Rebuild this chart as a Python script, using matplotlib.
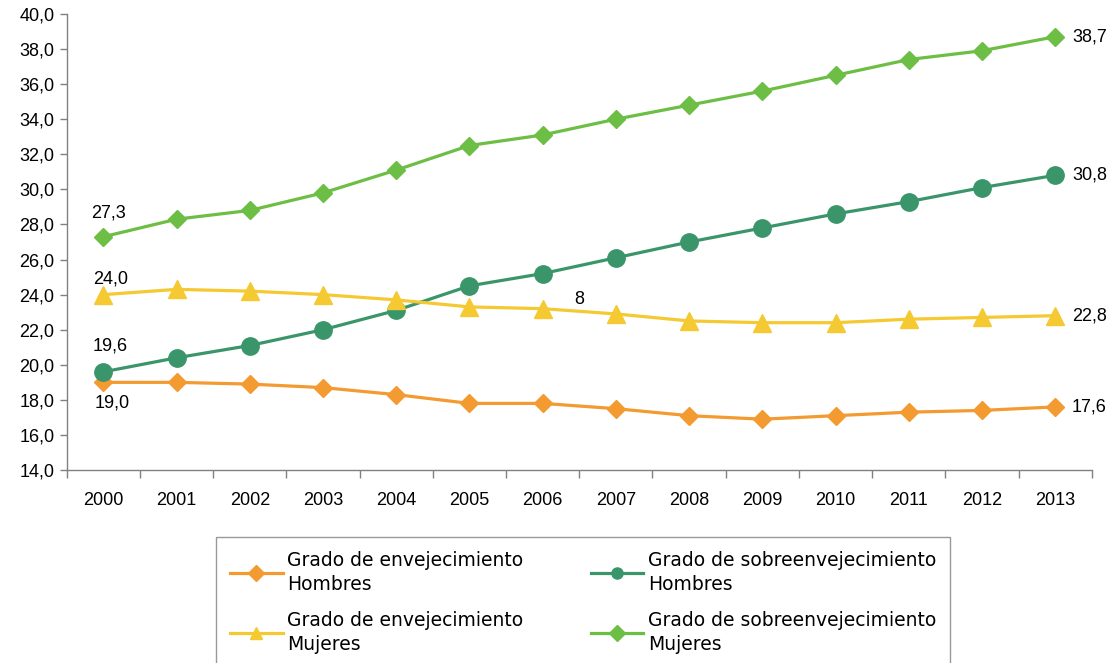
import numpy as np
import matplotlib.pyplot as plt
from matplotlib.ticker import FuncFormatter, FixedLocator

plt.rcParams['font.family'] = ['Liberation Sans', 'DejaVu Sans']

years = ["2000", "2001", "2002", "2003", "2004", "2005", "2006",
         "2007", "2008", "2009", "2010", "2011", "2012", "2013"]

env_hombres = [19.0, 19.0, 18.9, 18.7, 18.3, 17.8, 17.8, 17.5, 17.1, 16.9, 17.1, 17.3, 17.4, 17.6]
sobre_hombres = [19.6, 20.4, 21.1, 22.0, 23.1, 24.5, 25.2, 26.1, 27.0, 27.8, 28.6, 29.3, 30.1, 30.8]
env_mujeres = [24.0, 24.3, 24.2, 24.0, 23.7, 23.3, 23.2, 22.9, 22.5, 22.4, 22.4, 22.6, 22.7, 22.8]
sobre_mujeres = [27.3, 28.3, 28.8, 29.8, 31.1, 32.5, 33.1, 34.0, 34.8, 35.6, 36.5, 37.4, 37.9, 38.7]

labels = ["Grado de envejecimiento\nHombres",
          "Grado de sobreenvejecimiento\nHombres",
          "Grado de envejecimiento\nMujeres",
          "Grado de sobreenvejecimiento\nMujeres"]

c_orange = "#F39A30"
c_dgreen = "#3A966A"
c_yellow = "#F5C932"
c_lgreen = "#6DBE45"

fig = plt.figure(figsize=(11.14, 6.63), dpi=100)
ax = fig.add_axes([0.060, 0.291, 0.920, 0.688])

x = np.arange(len(years))
lw = 2.3
l1, = ax.plot(x, env_hombres, color=c_orange, lw=lw, marker="D", ms=9.5)
l2, = ax.plot(x, sobre_hombres, color=c_dgreen, lw=lw, marker="o", ms=12.5)
l3, = ax.plot(x, env_mujeres, color=c_yellow, lw=lw, marker="^", ms=13)
l4, = ax.plot(x, sobre_mujeres, color=c_lgreen, lw=lw, marker="D", ms=9.5)

ax.set_xlim(-0.5, len(years) - 0.5)
ax.set_ylim(14, 40)
ax.set_yticks(np.arange(14, 40.1, 2))
ax.yaxis.set_major_formatter(FuncFormatter(lambda v, p: f"{v:.1f}".replace(".", ",")))

ax.set_xticks(x)
ax.set_xticklabels(years)
ax.xaxis.set_minor_locator(FixedLocator(np.arange(-0.5, len(years), 1)))
ax.tick_params(axis="x", which="major", length=0, pad=16, labelsize=13)
ax.tick_params(axis="x", which="minor", length=6, width=1, color="#808080", direction="out")
ax.tick_params(axis="y", length=5, width=1, color="#808080", labelsize=13, pad=4)

for s in ["top", "right"]:
    ax.spines[s].set_visible(False)
for s in ["left", "bottom"]:
    ax.spines[s].set_color("#808080")
    ax.spines[s].set_linewidth(1)

fmt = lambda v: f"{v:.1f}".replace(".", ",")
fs = 13
ax.annotate(fmt(sobre_mujeres[0]), (0, sobre_mujeres[0]), xytext=(5, 24),
            textcoords="offset pixels", ha="center", va="center", fontsize=fs)
ax.annotate(fmt(env_mujeres[0]), (0, env_mujeres[0]), xytext=(7, 16),
            textcoords="offset pixels", ha="center", va="center", fontsize=fs)
ax.annotate(fmt(sobre_hombres[0]), (0, sobre_hombres[0]), xytext=(7, 26),
            textcoords="offset pixels", ha="center", va="center", fontsize=fs)
ax.annotate(fmt(env_hombres[0]), (0, env_hombres[0]), xytext=(9, -21),
            textcoords="offset pixels", ha="center", va="center", fontsize=fs)
for series in [env_hombres, sobre_hombres, env_mujeres, sobre_mujeres]:
    ax.annotate(fmt(series[-1]), (x[-1], series[-1]), xytext=(17, 0),
                textcoords="offset pixels", ha="left", va="center", fontsize=fs)
ax.text(6.5, 23.75, "8", ha="center", va="center", fontsize=fs)

# legend fills column-wise, so order handles to get row-wise layout
leg = fig.legend([l1, l3, l2, l4], [labels[0], labels[2], labels[1], labels[3]],
                 ncol=2, loc="upper left",
                 bbox_to_anchor=(216 / 1114, 1 - 537 / 663),
                 prop={"family": "DejaVu Sans", "size": 13.5},
                 frameon=True, fancybox=False, edgecolor="#808080",
                 handlelength=2.8, handletextpad=0.25, columnspacing=3.6,
                 labelspacing=0.9, borderpad=0.75, borderaxespad=0)
leg.get_frame().set_linewidth(1)
for t in leg.get_texts():
    t.set_linespacing(1.33)
for h in leg.legend_handles:
    h.set_markersize(8)

fig.savefig("out.png", dpi=100)
